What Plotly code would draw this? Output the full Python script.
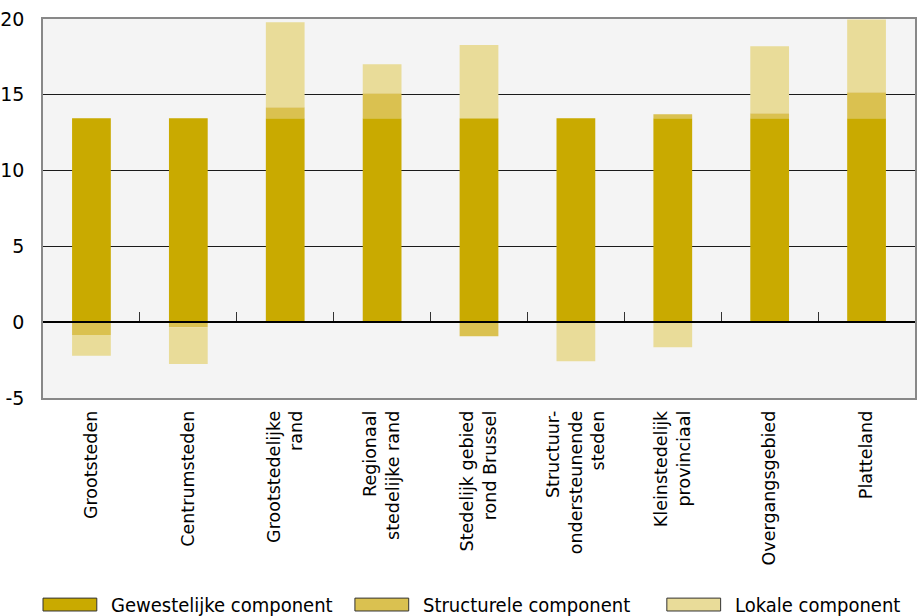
import plotly.graph_objects as go

categories = ["Grootsteden", "Centrumsteden", "Grootstedelijke<br>rand",
              "Regionaal<br>stedelijke rand", "Stedelijk gebied<br>rond Brussel",
              "Structuur-<br>ondersteunende<br>steden", "Kleinstedelijk<br>provinciaal",
              "Overgangsgebied", "Platteland"]

gewestelijk = [13.45, 13.45, 13.45, 13.45, 13.45, 13.45, 13.45, 13.45, 13.45]
structureel = [-0.85, -0.33, 0.73, 1.65, -0.92, 0.0, 0.27, 0.33, 1.72]
lokaal = [-1.37, -2.42, 5.6, 1.92, 4.83, -2.58, -1.65, 4.43, 4.8]

y_ticks = [-5, 0, 5, 10, 15, 20]
y_ticktext = ["-5", "0", "5", "10", "15", "20"]

series_names = ["Gewestelijke component", "Structurele component", "Lokale component"]
series_colors = ["#c9aa00", "#dac150", "#e9dc99"]

fig = go.Figure()
for name, vals, col in zip(series_names, [gewestelijk, structureel, lokaal], series_colors):
    fig.add_trace(go.Bar(x=categories, y=vals, name=name, marker_color=col,
                         marker_line_width=0, showlegend=False))

# invisible trace so the zero-line axis (with boundary ticks) is drawn
fig.add_trace(go.Scatter(x=categories, y=[None] * len(categories), xaxis="x2",
                         showlegend=False, hoverinfo="skip"))

fig.update_layout(
    width=917, height=616,
    margin=dict(l=42, r=0, t=19, b=218),
    paper_bgcolor="white", plot_bgcolor="#f4f4f4",
    barmode="relative", bargap=0.6,
    font=dict(family="DejaVu Sans", size=17, color="black"),
    xaxis=dict(type="category", tickangle=-90, ticks="", showgrid=False,
               showline=True, linecolor="#888888", linewidth=1.5, mirror=True,
               ticklabelstandoff=4, tickfont=dict(size=17.5)),
    xaxis2=dict(type="category", overlaying="x", matches="x", anchor="free",
                position=0.2, side="bottom", showticklabels=False,
                tickson="boundaries", ticks="inside", ticklen=9, tickcolor="#333333",
                showline=True, linecolor="black", linewidth=1.5, showgrid=False),
    yaxis=dict(range=[-5, 20], tickvals=y_ticks, ticktext=y_ticktext, showgrid=True,
               gridcolor="#1a1a1a", gridwidth=1.2, zeroline=False,
               showline=True, linecolor="#888888", linewidth=1.5, mirror=True,
               ticklabelstandoff=13, tickfont=dict(size=19)),
)

# legend drawn as wide boxes like the original
box_w = 0.0617
step = 0.3577
for i, (name, col) in enumerate(zip(series_names, series_colors)):
    x0 = i * step
    fig.add_shape(type="rect", xref="paper", yref="paper",
                  x0=x0, x1=x0 + box_w, y0=-0.562, y1=-0.528,
                  fillcolor=col, line=dict(color="#333333", width=1))
    fig.add_annotation(xref="paper", yref="paper", x=x0 + box_w + 0.0137, y=-0.546,
                       text=name, showarrow=False, xanchor="left", yanchor="middle",
                       font=dict(family="DejaVu Sans Condensed, Liberation Sans",
                                 size=20, color="black"))

fig.write_html("out.html", config={"displayModeBar": False},
               post_script="document.body.style.margin='0';")
